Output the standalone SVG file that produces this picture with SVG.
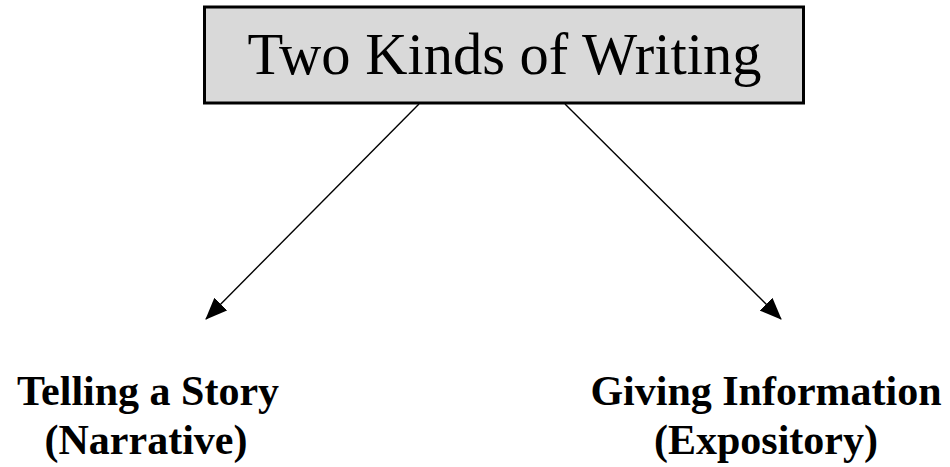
<svg xmlns="http://www.w3.org/2000/svg" width="950" height="467" viewBox="0 0 950 467">
<style>
.box{fill:#d9d9d9;stroke:#000;stroke-width:3}
.title{font-family:"Liberation Serif","Times New Roman",serif;font-size:58.5px;fill:#000;text-anchor:middle}
.label{font-family:"Liberation Serif","Times New Roman",serif;font-size:42px;font-weight:bold;fill:#000;text-anchor:middle}
.conn{stroke:#000;stroke-width:1.4;fill:none}
</style>
<defs>
<marker id="arrow" markerUnits="userSpaceOnUse" markerWidth="22" markerHeight="18" viewBox="0 0 22 18" refX="21" refY="9" orient="auto">
<path d="M0,0 L22,9 L0,18 Z" fill="#000"/>
</marker>
</defs>
<rect width="950" height="467" fill="#fff"/>
<g id="connectors">
<line class="conn" x1="419" y1="104" x2="206" y2="319" marker-end="url(#arrow)"/>
<line class="conn" x1="565" y1="104" x2="781" y2="319" marker-end="url(#arrow)"/>
</g>
<g id="node-title">
<rect class="box" x="204.5" y="7" width="599" height="96"/>
<text class="title" x="504.5" y="74">Two Kinds of Writing</text>
</g>
<g id="node-narrative">
<text class="label" x="148" y="405">Telling a Story</text>
<text class="label" x="146" y="454">(Narrative)</text>
</g>
<g id="node-expository">
<text class="label" x="766" y="405">Giving Information</text>
<text class="label" x="766" y="454">(Expository)</text>
</g>
</svg>
